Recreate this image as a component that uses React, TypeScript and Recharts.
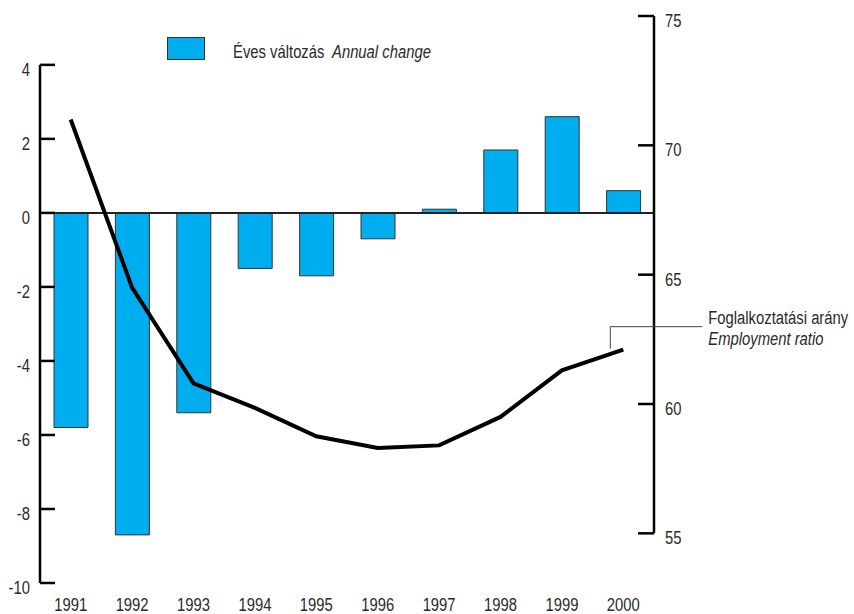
import { ComposedChart, Bar, Line, XAxis, YAxis, ReferenceLine, Legend, LabelList } from 'recharts';

const years = ['1991', '1992', '1993', '1994', '1995', '1996', '1997', '1998', '1999', '2000'];
const annualChange = [-5.8, -8.7, -5.4, -1.5, -1.7, -0.7, 0.1, 1.7, 2.6, 0.6];
const employmentRatio = [71.0, 64.5, 60.8, 59.85, 58.75, 58.3, 58.4, 59.5, 61.3, 62.1];
const leftTicks = [-10, -8, -6, -4, -2, 0, 2, 4];
const rightTicks = [55, 60, 65, 70, 75];

const data = years.map((year, i) => ({
  year,
  change: annualChange[i],
  ratio: employmentRatio[i],
}));

const FONT = "'Liberation Sans', Arial, sans-serif";
const FS = 19;
const SQUEEZE = 0.78; // no condensed face installed, so squeeze Liberation Sans
const TEXT = '#2a2a2a';
const BAR = '#00aeef';

// condensed-looking svg text
const NarrowText = ({ x, y, anchor = 'start', italic = false, children }: any) => (
  <text
    transform={`translate(${x},${y}) scale(${SQUEEZE},1)`}
    textAnchor={anchor}
    fontFamily={FONT}
    fontSize={FS}
    fontStyle={italic ? 'italic' : 'normal'}
    fill={TEXT}
  >
    {children}
  </text>
);

const LeftTick = ({ x, y, payload }: any) => (
  <g>
    <line x1={x} x2={x + 15} y1={y} y2={y} stroke="#000" strokeWidth={2.5} />
    <NarrowText x={x - 10} y={y + 11} anchor="end">{payload.value}</NarrowText>
  </g>
);

const RightTick = ({ x, y, payload }: any) => (
  <g>
    <line x1={x - 16} x2={x} y1={y} y2={y} stroke="#000" strokeWidth={2.5} />
    <NarrowText x={x + 11} y={y + 11}>{payload.value}</NarrowText>
  </g>
);

const YearTick = ({ x, y, payload }: any) => (
  <NarrowText x={x} y={y + 28} anchor="middle">{payload.value}</NarrowText>
);

// leader line + label for the employment ratio, hung off the last point
const RatioLabel = ({ x, y, index }: any) => {
  if (index !== years.length - 1) return null;
  const lx = x - 13;
  const ly = y - 23;
  return (
    <g>
      <polyline points={`${lx},${y - 1} ${lx},${ly} ${x + 79},${ly}`} fill="none" stroke="#444" strokeWidth={1} />
      <NarrowText x={x + 85} y={ly - 3}>Foglalkoztatási arány</NarrowText>
      <NarrowText x={x + 85} y={ly + 18} italic>Employment ratio</NarrowText>
    </g>
  );
};

const squeezed = {
  position: 'absolute' as const,
  top: 12,
  lineHeight: '20px',
  whiteSpace: 'nowrap' as const,
  transform: `scaleX(${SQUEEZE})`,
  transformOrigin: 'left center',
};

const renderLegend = () => (
  <div style={{ position: 'relative', width: 300, height: 32, fontFamily: FONT, fontSize: FS, color: TEXT }}>
    <span
      style={{
        position: 'absolute', left: 0, top: 7, width: 38, height: 23,
        background: BAR, border: '1px solid #333', boxSizing: 'border-box',
      }}
    />
    <span style={{ ...squeezed, left: 66 }}>Éves változás</span>
    <span style={{ ...squeezed, left: 165, fontStyle: 'italic' }}>Annual change</span>
  </div>
);

export default function App() {
  return (
    <div style={{ position: 'absolute', left: 0, top: 0, width: 854, height: 614, background: '#fff' }}>
      <ComposedChart width={854} height={614} data={data} margin={{ top: 16, right: 0, bottom: 0, left: 0 }} barSize={34}>
        <XAxis
          dataKey="year"
          interval={0}
          axisLine={false}
          tickLine={false}
          tickSize={0}
          tickMargin={0}
          height={31}
          tick={YearTick}
        />
        <YAxis
          yAxisId="left"
          orientation="left"
          width={40}
          domain={[-10, 5.32]}
          ticks={leftTicks}
          allowDataOverflow
          axisLine={false}
          tickLine={false}
          tickSize={0}
          tickMargin={0}
          tick={LeftTick}
        />
        <YAxis
          yAxisId="right"
          orientation="right"
          width={200}
          domain={[53.08, 75]}
          ticks={rightTicks}
          allowDataOverflow
          axisLine={false}
          tickLine={false}
          tickSize={0}
          tickMargin={0}
          tick={RightTick}
        />
        <Bar yAxisId="left" dataKey="change" fill={BAR} stroke="#333" strokeWidth={1} isAnimationActive={false} />
        <ReferenceLine yAxisId="left" y={0} stroke="#222" strokeWidth={2} />
        <ReferenceLine
          yAxisId="left"
          position="start"
          segment={[{ x: years[0], y: 4 }, { x: years[0], y: -10 }]}
          stroke="#000"
          strokeWidth={2.5}
        />
        <ReferenceLine
          yAxisId="right"
          position="end"
          segment={[{ x: years[years.length - 1], y: 75 }, { x: years[years.length - 1], y: 55 }]}
          stroke="#000"
          strokeWidth={2.5}
        />
        <Line
          yAxisId="right"
          type="linear"
          dataKey="ratio"
          stroke="#000"
          strokeWidth={4}
          dot={false}
          isAnimationActive={false}
        >
          <LabelList dataKey="ratio" content={RatioLabel} />
        </Line>
        <Legend
          layout="horizontal"
          verticalAlign="middle"
          align="center"
          content={renderLegend}
          wrapperStyle={{ left: 167, top: 30, width: 300, height: 32 }}
        />
      </ComposedChart>
    </div>
  );
}
